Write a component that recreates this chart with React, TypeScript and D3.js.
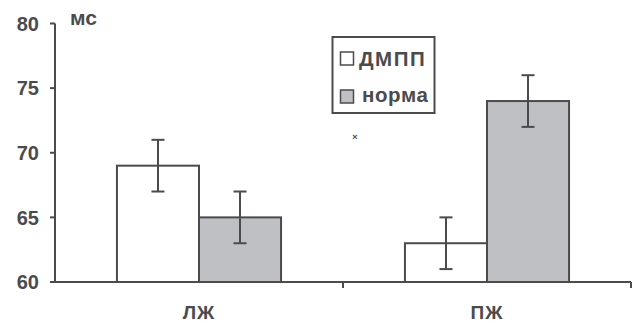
import React from "react";
import * as d3 from "d3";

const categories = ["ЛЖ", "ПЖ"];
const seriesNames = ["ДМПП", "норма"];
const dmppValues = [69, 63];
const dmppErrors = [2, 2];
const normaValues = [65, 74];
const normaErrors = [2, 2];
const yTicks = [60, 65, 70, 75, 80];
const unitLabel = "мс";

const W = 633;
const H = 322;
const left = 55;
const right = 631;
const top = 23.5;
const bottom = 282;
const ink = "#4b4b4d";
const grayFill = "#bfc0c4";
const font = "'Liberation Sans', Arial, sans-serif";

export default function App() {
  const y = d3.scaleLinear().domain([60, 80]).range([bottom, top]);
  const x0 = d3.scaleBand<string>().domain(categories).range([left, right]).paddingInner(0).paddingOuter(0);
  const x1 = d3
    .scaleBand<string>()
    .domain(seriesNames)
    .range([0, x0.bandwidth()])
    .paddingInner(0)
    .paddingOuter(0.755);

  const series = [
    { name: seriesNames[0], values: dmppValues, errors: dmppErrors, fill: "#ffffff", spacing: 1.5 },
    { name: seriesNames[1], values: normaValues, errors: normaErrors, fill: grayFill, spacing: 0.6 },
  ];
  const capHalf = 6.5;

  return (
    <svg width={W} height={H} style={{ position: "absolute", left: 0, top: 0 }}>
      <rect width={W} height={H} fill="#ffffff" />
      {/* bars */}
      {series.map((s) =>
        categories.map((c, i) => {
          const bx = (x0(c) ?? 0) + (x1(s.name) ?? 0);
          return (
            <rect
              key={s.name + c}
              x={bx}
              y={y(s.values[i])}
              width={x1.bandwidth()}
              height={bottom - y(s.values[i])}
              fill={s.fill}
              stroke={ink}
              strokeWidth={2}
            />
          );
        })
      )}
      {/* error bars */}
      {series.map((s) =>
        categories.map((c, i) => {
          const cx = (x0(c) ?? 0) + (x1(s.name) ?? 0) + x1.bandwidth() / 2;
          const hi = y(s.values[i] + s.errors[i]);
          const lo = y(s.values[i] - s.errors[i]);
          return (
            <g key={"e" + s.name + c} stroke={ink} strokeWidth={2}>
              <line x1={cx} x2={cx} y1={hi} y2={lo} />
              <line x1={cx - capHalf} x2={cx + capHalf} y1={hi} y2={hi} />
              <line x1={cx - capHalf} x2={cx + capHalf} y1={lo} y2={lo} />
            </g>
          );
        })
      )}
      {/* y axis */}
      <line x1={left} x2={left} y1={top} y2={bottom} stroke={ink} strokeWidth={2} />
      {yTicks.map((t) => (
        <g key={t}>
          <line x1={left - 5} x2={left} y1={y(t)} y2={y(t)} stroke={ink} strokeWidth={2} />
          <text
            x={39}
            y={y(t)}
            dy="0.36em"
            textAnchor="end"
            fontFamily={font}
            fontWeight="bold"
            fontSize={20}
            fill={ink}
          >
            {t}
          </text>
        </g>
      ))}
      <text x={70} y={25} fontFamily={font} fontWeight="bold" fontSize={21} fill={ink}>
        {unitLabel}
      </text>
      {/* x axis */}
      <line x1={left} x2={right} y1={bottom} y2={bottom} stroke={ink} strokeWidth={2} />
      {[...categories.map((c) => x0(c) ?? 0), right].map((tx, i) =>
        i === 0 ? null : (
          <line key={"xt" + i} x1={tx} x2={tx} y1={bottom} y2={bottom + 6} stroke={ink} strokeWidth={2} />
        )
      )}
      {categories.map((c) => (
        <text
          key={"xl" + c}
          x={(x0(c) ?? 0) + x0.bandwidth() / 2}
          y={318.5}
          textAnchor="middle"
          fontFamily={font}
          fontWeight="bold"
          fontSize={19}
          letterSpacing={1}
          fill={ink}
        >
          {c}
        </text>
      ))}
      {/* legend */}
      <rect x={332.5} y={37} width={102} height={76} fill="#ffffff" stroke={ink} strokeWidth={2} />
      {series.map((s, i) => (
        <g key={"lg" + s.name}>
          <rect x={340.5} y={52 + i * 38} width={13} height={13} fill={s.fill} stroke={ink} strokeWidth={1.5} />
          <text
            x={359 + i * 3}
            y={65.5 + i * 36}
            fontFamily={font}
            fontWeight="bold"
            fontSize={20.5}
            letterSpacing={s.spacing}
            fill={ink}
          >
            {s.name}
          </text>
        </g>
      ))}
      <text x={355} y={140} textAnchor="middle" fontFamily={font} fontSize={9} fontWeight="bold" fill={ink}>
        ×
      </text>
    </svg>
  );
}
